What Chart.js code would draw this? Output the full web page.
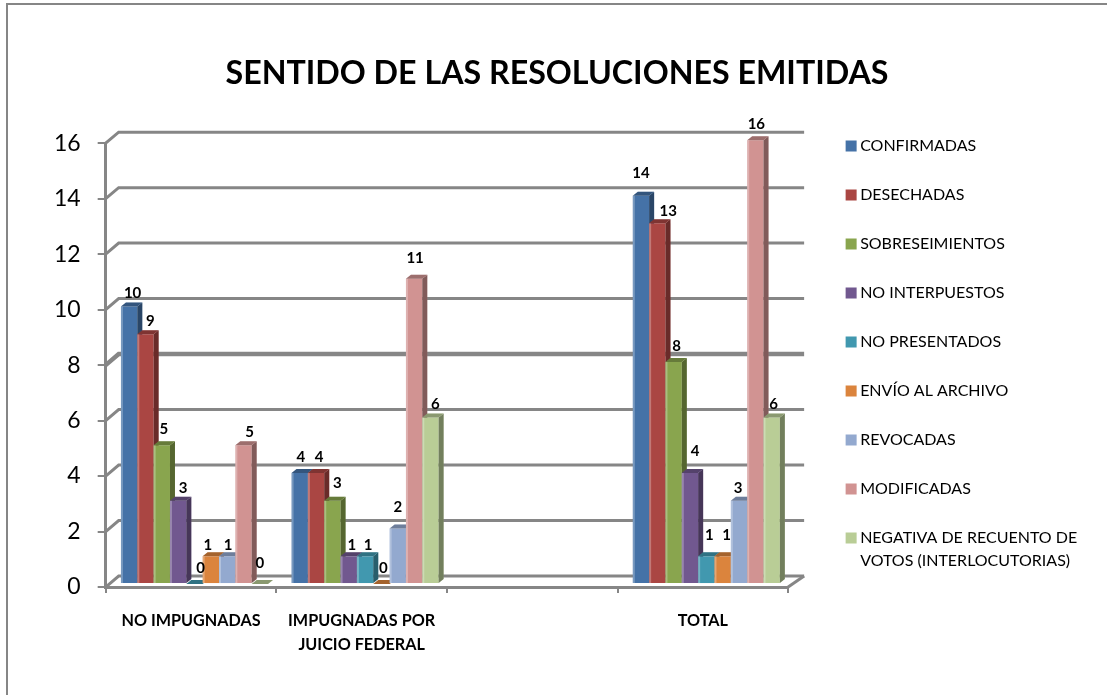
<!DOCTYPE html>
<html>
<head>
<meta charset="utf-8">
<style>
html,body{margin:0;padding:0;background:#fff;overflow:hidden;}
#wrap{position:absolute;left:6px;top:3px;right:0;bottom:0;border-left:2px solid #868686;border-top:2px solid #868686;box-sizing:border-box;}
canvas{position:absolute;left:0;top:0;}
</style>
<script src="https://cdn.jsdelivr.net/npm/chart.js@4"></script>
</head>
<body>
<canvas id="myChart" width="1107" height="695" style="width:1107px;height:695px"></canvas>
<div id="wrap"></div>
<script>
var categories=['NO IMPUGNADAS',['IMPUGNADAS POR','JUICIO FEDERAL'],'','TOTAL'];
var confirmadas=[10,4,null,14];
var desechadas=[9,4,null,13];
var sobreseimientos=[5,3,null,8];
var noInterpuestos=[3,1,null,4];
var noPresentados=[0,1,null,1];
var envioArchivo=[1,0,null,1];
var revocadas=[1,2,null,3];
var modificadas=[5,11,null,16];
var negativa=[0,6,null,6];
var yTicks=[0,2,4,6,8,10,12,14,16];

// where each value label sits relative to its bar top, [dx,dy], one row per series
var labelShift=[
	[[3.5,-13],[1,-16],null,[0,-22]],
	[[5,-13],[3,-16],null,[11,-12]],
	[[2,-16],[5,-18],null,[3,-16]],
	[[5,-12.5],[3,-11],null,[5,-22]],
	[[6,-16],[3,-11],null,[3,-21]],
	[[-3,-11],[2,-16],null,[4,-21]],
	[[1,-11],[0,-21],null,[-1,-13]],
	[[6,-13],[1,-21],null,[1,-16]],
	[[0,-21],[5,-13],null,[2,-13]]
];

var axisGray='#868686';
var font='Lato';
var depthX=5,depthY=4;   // bar side and top
var wallX=13,wallY=-11;  // back wall offset
var barX=3.5,barY=-3;    // bars sit a little behind the front plane

function series(label,data,color){
	return {label:label,data:data,backgroundColor:color,borderWidth:0,barPercentage:1,categoryPercentage:0.862};
}

var wall3d={
	id:'wall3d',
	afterLayout:function(chart){
		var lg=chart.legend,tt=chart.titleBlock;
		lg.left+=29;
		lg.right=chart.width;
		lg.top+=51;
		lg.bottom=chart.height;
		tt.left=7;
		tt.right=chart.width;
	},
	beforeDatasetsDraw:function(chart){
		var ctx=chart.ctx,y=chart.scales.y,a=chart.chartArea;
		ctx.save();
		ctx.lineCap='butt';
		yTicks.forEach(function(v){
			var py=y.getPixelForValue(v);
			ctx.strokeStyle=axisGray;
			ctx.lineWidth=v==8?4.5:3;
			ctx.beginPath();
			ctx.moveTo(a.left,py);
			ctx.lineTo(a.left+wallX,py+wallY);
			ctx.lineTo(a.right+wallX+3,py+wallY);
			ctx.stroke();
		});
		var p0=y.getPixelForValue(0);
		ctx.lineWidth=3;
		ctx.beginPath();
		ctx.moveTo(a.right,p0);
		ctx.lineTo(a.right+wallX+3,p0+wallY);
		ctx.stroke();
		ctx.restore();
	},
	beforeDatasetDraw:function(){
		return false; // bars go in afterDatasetsDraw, first series at the back
	},
	afterDatasetsDraw:function(chart){
		var ctx=chart.ctx;
		ctx.save();
		ctx.translate(barX,barY);
		chart.data.datasets.forEach(function(ds,i){
			chart.getDatasetMeta(i).data.forEach(function(bar,j){
				if(ds.data[j]===null)return;
				var l=bar.x-bar.width/2,r=bar.x+bar.width/2,t=bar.y,b=bar.base;
				bar.draw(ctx);
				ctx.fillStyle=ds.backgroundColor;
				ctx.beginPath();
				ctx.moveTo(r,t);ctx.lineTo(r+depthX,t-depthY);ctx.lineTo(r+depthX,b-depthY);ctx.lineTo(r,b);ctx.closePath();
				ctx.fill();
				ctx.fillStyle='rgba(0,0,0,0.38)';
				ctx.fill();
				ctx.fillStyle=ds.backgroundColor;
				ctx.beginPath();
				ctx.moveTo(l,t);ctx.lineTo(l+depthX,t-depthY);ctx.lineTo(r+depthX,t-depthY);ctx.lineTo(r,t);ctx.closePath();
				ctx.fill();
				ctx.fillStyle='rgba(0,0,0,0.25)';
				ctx.fill();
				ctx.fillStyle='rgba(255,255,255,0.28)';
				ctx.fillRect(l,t,2,b-t);
			});
		});
		ctx.fillStyle='#000';
		ctx.font='bold 15px '+font;
		ctx.textAlign='center';
		ctx.textBaseline='middle';
		chart.data.datasets.forEach(function(ds,i){
			chart.getDatasetMeta(i).data.forEach(function(bar,j){
				if(ds.data[j]===null)return;
				var s=labelShift[i][j];
				ctx.fillText(ds.data[j],bar.x+s[0],bar.y+s[1]);
			});
		});
		ctx.restore();
	}
};

var ctx=document.getElementById('myChart').getContext('2d');
var myChart=new Chart(ctx,{
	type:'bar',
	data:{
		labels:categories,
		datasets:[
			series('CONFIRMADAS',confirmadas,'#4572A7'),
			series('DESECHADAS',desechadas,'#AA4643'),
			series('SOBRESEIMIENTOS',sobreseimientos,'#89A54E'),
			series('NO INTERPUESTOS',noInterpuestos,'#71588F'),
			series('NO PRESENTADOS',noPresentados,'#4198AF'),
			series('ENVÍO AL ARCHIVO',envioArchivo,'#DB843D'),
			series('REVOCADAS',revocadas,'#93A9CF'),
			series('MODIFICADAS',modificadas,'#D19392'),
			series(['NEGATIVA DE RECUENTO DE','VOTOS (INTERLOCUTORIAS)'],negativa,'#B9CD96')
		]
	},
	plugins:[wall3d],
	options:{
		responsive:false,
		animation:false,
		layout:{padding:{left:37,right:68.5,top:54,bottom:23}},
		plugins:{
			title:{display:true,text:'SENTIDO DE LAS RESOLUCIONES EMITIDAS',color:'#000',font:{family:font,size:32.2,weight:'bold'},padding:{top:0,bottom:50.5}},
			legend:{position:'right',align:'start',labels:{usePointStyle:true,pointStyle:'rect',boxWidth:2,boxHeight:11,padding:33,color:'#000',font:{family:font,size:16,lineHeight:1.44}}},
			tooltip:{enabled:false}
		},
		scales:{
			x:{
				grid:{drawOnChartArea:false,color:axisGray,lineWidth:2,tickLength:6,offset:true},
				border:{color:axisGray,width:3},
				ticks:{autoSkip:false,maxRotation:0,color:'#000',padding:15.5,font:{family:font,size:16.2,weight:'bold',lineHeight:1.48}}
			},
			y:{
				min:0,max:16,
				grid:{drawOnChartArea:false,color:axisGray,lineWidth:2,tickLength:8},
				border:{color:axisGray,width:3},
				ticks:{stepSize:2,color:'#000',padding:17,font:{family:font,size:23}}
			}
		}
	}
});
</script>
</body>
</html>
